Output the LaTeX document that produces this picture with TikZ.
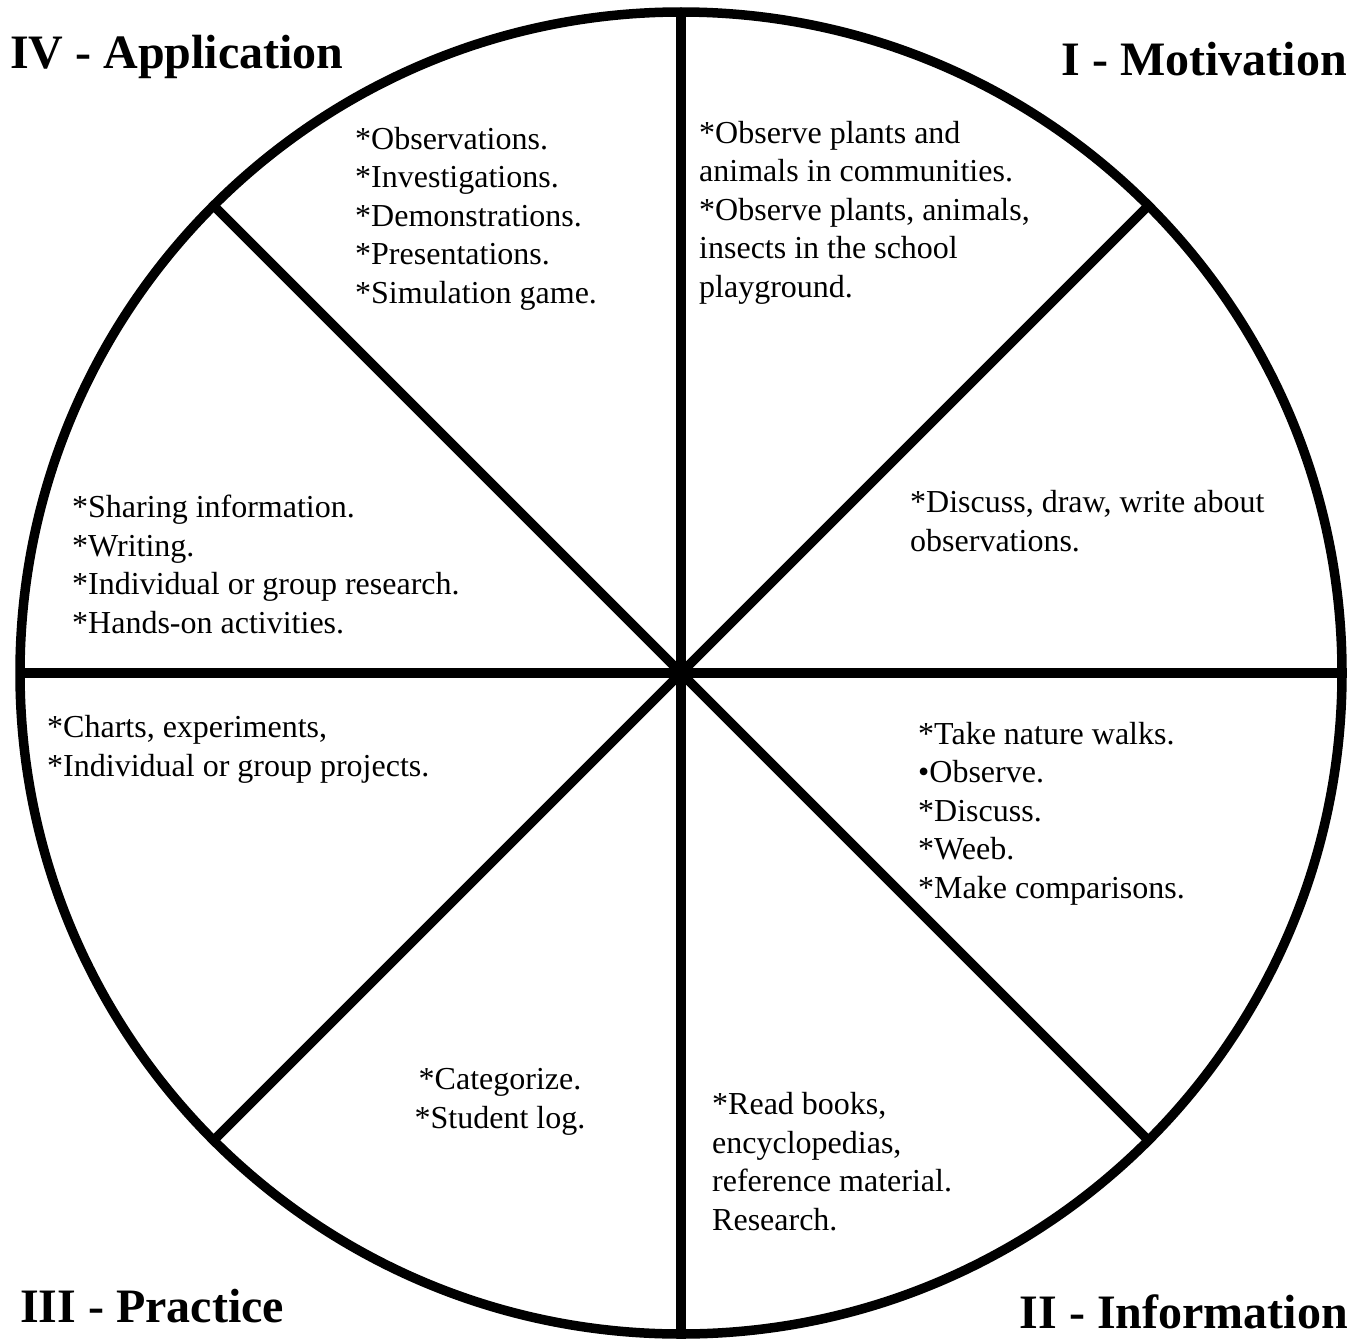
\documentclass[tikz,border=0pt]{standalone}
\usepackage{fontspec}
\setmainfont{Liberation Serif}
\usetikzlibrary{positioning}

\begin{document}
\begin{tikzpicture}[
  x=1pt, y=-1pt,
  wheel/.style={line width=9.5pt, black},
  item/.style={anchor=base west, inner sep=0pt, align=left,
               font=\fontsize{32}{38.4}\selectfont},
  phase/.style={anchor=base west, inner sep=0pt,
                font=\bfseries\fontsize{48}{52}\selectfont}
]
\useasboundingbox (0,0) rectangle (1362,1338);
\coordinate (hub) at (681,673);
\draw[wheel] (hub) circle[radius=661pt];
\foreach \a in {0,45,...,315}
  \draw[wheel] (hub) -- ++(\a:661pt);

% phase titles
\node[phase] (application) at (10,68) {IV - Application};
\node[phase, anchor=base east] (motivation) at (1347,75) {I - Motivation};
\node[phase] (practice) at (20,1322) {III - Practice};
\node[phase, anchor=base east] (information) at (1348,1328) {II - Information};

% sector texts (placed by the baseline of their last line)
\node[item] (observations) at (355,303) {*Observations.\\*Investigations.\\*Demonstrations.\\*Presentations.\\*Simulation game.};
\node[item] (observe) at (699,297) {*Observe plants and\\animals in communities.\\*Observe plants, animals,\\insects in the school\\playground.};
\node[item] (discuss) at (910,551) {*Discuss, draw, write about\\observations.};
\node[item] (walks) at (918,898) {*Take nature walks.\\•Observe.\\*Discuss.\\*Weeb.\\*Make comparisons.};
\node[item] (books) at (712,1230) {*Read books,\\encyclopedias,\\reference material.\\Research.};
\node[item, anchor=base, align=center] (categorize) at (500,1128) {*Categorize.\\*Student log.};
\node[item] (charts) at (47,776) {*Charts, experiments,\\*Individual or group projects.};
\node[item] (sharing) at (72,633) {*Sharing information.\\*Writing.\\*Individual or group research.\\*Hands-on activities.};
\end{tikzpicture}
\end{document}
